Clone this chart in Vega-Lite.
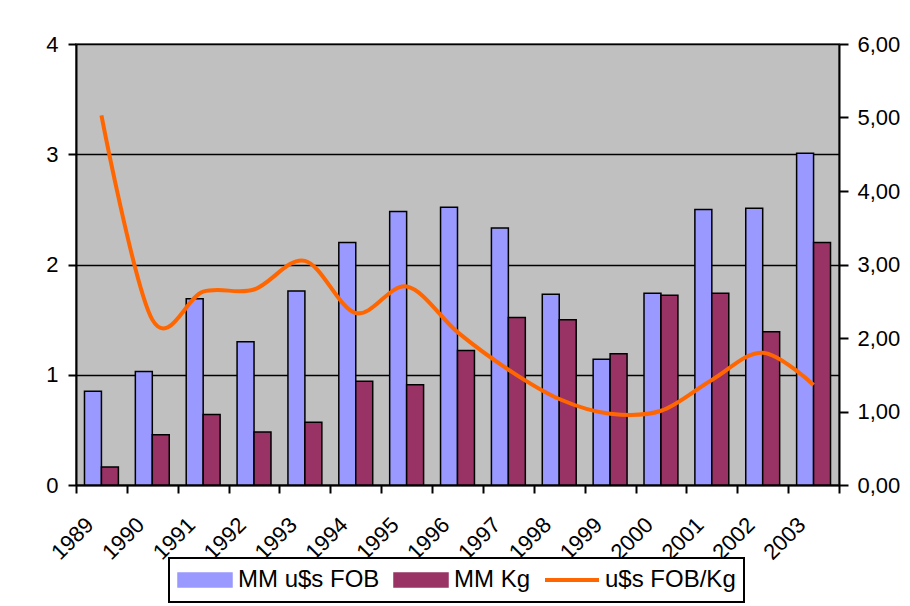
{
  "$schema": "https://vega.github.io/schema/vega-lite/v6.json",
  "width": 763,
  "height": 441,
  "autosize": {"type": "none"},
  "padding": {"left": 76, "top": 44, "right": 71, "bottom": 121},
  "background": "white",
  "config": {
    "font": "Liberation Sans",
    "view": {"fill": "#C0C0C0", "stroke": "#808080", "strokeWidth": 2},
    "axis": {"labelColor": "black", "labelFont": "Liberation Sans", "domainColor": "black", "tickColor": "black"}
  },
  "datasets": {
    "bars": [
      {"year": "1989", "series": "MM u$s FOB", "value": 0.85},
      {"year": "1990", "series": "MM u$s FOB", "value": 1.03},
      {"year": "1991", "series": "MM u$s FOB", "value": 1.69},
      {"year": "1992", "series": "MM u$s FOB", "value": 1.30},
      {"year": "1993", "series": "MM u$s FOB", "value": 1.76},
      {"year": "1994", "series": "MM u$s FOB", "value": 2.20},
      {"year": "1995", "series": "MM u$s FOB", "value": 2.48},
      {"year": "1996", "series": "MM u$s FOB", "value": 2.52},
      {"year": "1997", "series": "MM u$s FOB", "value": 2.33},
      {"year": "1998", "series": "MM u$s FOB", "value": 1.73},
      {"year": "1999", "series": "MM u$s FOB", "value": 1.14},
      {"year": "2000", "series": "MM u$s FOB", "value": 1.74},
      {"year": "2001", "series": "MM u$s FOB", "value": 2.50},
      {"year": "2002", "series": "MM u$s FOB", "value": 2.51},
      {"year": "2003", "series": "MM u$s FOB", "value": 3.01},
      {"year": "1989", "series": "MM Kg", "value": 0.163},
      {"year": "1990", "series": "MM Kg", "value": 0.456},
      {"year": "1991", "series": "MM Kg", "value": 0.64},
      {"year": "1992", "series": "MM Kg", "value": 0.48},
      {"year": "1993", "series": "MM Kg", "value": 0.57},
      {"year": "1994", "series": "MM Kg", "value": 0.94},
      {"year": "1995", "series": "MM Kg", "value": 0.91},
      {"year": "1996", "series": "MM Kg", "value": 1.22},
      {"year": "1997", "series": "MM Kg", "value": 1.52},
      {"year": "1998", "series": "MM Kg", "value": 1.50},
      {"year": "1999", "series": "MM Kg", "value": 1.19},
      {"year": "2000", "series": "MM Kg", "value": 1.72},
      {"year": "2001", "series": "MM Kg", "value": 1.74},
      {"year": "2002", "series": "MM Kg", "value": 1.39},
      {"year": "2003", "series": "MM Kg", "value": 2.20}
    ],
    "line": [
      {"year": "1989", "series": "u$s FOB/Kg", "value": 5.03},
      {"year": "1990", "series": "u$s FOB/Kg", "value": 2.25},
      {"year": "1991", "series": "u$s FOB/Kg", "value": 2.63},
      {"year": "1992", "series": "u$s FOB/Kg", "value": 2.66},
      {"year": "1993", "series": "u$s FOB/Kg", "value": 3.05},
      {"year": "1994", "series": "u$s FOB/Kg", "value": 2.34},
      {"year": "1995", "series": "u$s FOB/Kg", "value": 2.70},
      {"year": "1996", "series": "u$s FOB/Kg", "value": 2.08},
      {"year": "1997", "series": "u$s FOB/Kg", "value": 1.57},
      {"year": "1998", "series": "u$s FOB/Kg", "value": 1.17},
      {"year": "1999", "series": "u$s FOB/Kg", "value": 0.97},
      {"year": "2000", "series": "u$s FOB/Kg", "value": 1.01},
      {"year": "2001", "series": "u$s FOB/Kg", "value": 1.43},
      {"year": "2002", "series": "u$s FOB/Kg", "value": 1.80},
      {"year": "2003", "series": "u$s FOB/Kg", "value": 1.36}
    ]
  },
  "encoding": {
    "x": {
      "field": "year", "type": "nominal",
      "scale": {"paddingInner": 0, "paddingOuter": 0},
      "axis": {
        "title": null, "labelAngle": -45, "labelAlign": "right", "labelBaseline": "middle",
        "labelFontSize": 22, "labelPadding": 28, "labelOffset": -12,
        "tickBand": "extent", "tickSize": 8, "tickWidth": 2, "domainWidth": 2, "grid": false
      }
    },
    "color": {
      "field": "series", "type": "nominal",
      "scale": {"domain": ["MM u$s FOB", "MM Kg", "u$s FOB/Kg"], "range": ["#9999FF", "#993366", "#FF6600"]},
      "legend": {
        "title": null, "orient": "none", "legendX": 93, "legendY": 514, "direction": "horizontal",
        "labelFontSize": 24, "labelColor": "black", "labelOffset": 5, "columnPadding": 13,
        "padding": 8, "clipHeight": 28, "strokeColor": "black", "fillColor": "white",
        "symbolSize": 2916, "symbolOpacity": 1,
        "encode": {
          "legend": {"update": {"strokeWidth": {"value": 2}}},
          "symbols": {"update": {
            "shape": {"signal": "(datum.value === 'u$s FOB/Kg' ? 'stroke' : 'M-1,-0.26H1V0.26H-1Z')"},
            "fill": {"signal": "(datum.value === 'MM u$s FOB' ? '#9999FF' : datum.value === 'MM Kg' ? '#993366' : 'transparent')"},
            "stroke": {"signal": "(datum.value === 'u$s FOB/Kg' ? '#FF6600' : 'black')"},
            "strokeWidth": {"signal": "(datum.value === 'u$s FOB/Kg' ? 4 : 1.5)"}
          }}
        }
      }
    }
  },
  "layer": [
    {
      "data": {"name": "bars"},
      "mark": {"type": "bar", "stroke": "black", "strokeWidth": 1.5},
      "encoding": {
        "xOffset": {
          "field": "series", "type": "nominal",
          "scale": {"domain": ["MM u$s FOB", "MM Kg"], "paddingOuter": 0.5, "paddingInner": 0}
        },
        "y": {
          "field": "value", "type": "quantitative",
          "scale": {"domain": [0, 4], "nice": false},
          "axis": {
            "title": null, "values": [0, 1, 2, 3, 4], "labelFontSize": 22, "labelPadding": 10,
            "tickSize": 8, "tickWidth": 2, "domainWidth": 2,
            "grid": true, "gridColor": "black", "gridWidth": 1.5, "gridOpacity": 1
          }
        }
      }
    },
    {
      "data": {"name": "line"},
      "mark": {"type": "line", "strokeWidth": 4, "interpolate": "cardinal"},
      "encoding": {
        "y": {
          "field": "value", "type": "quantitative",
          "scale": {"domain": [0, 6], "nice": false},
          "axis": {
            "title": null, "orient": "right", "values": [0, 1, 2, 3, 4, 5, 6],
            "labelExpr": "replace(format(datum.value, '.2f'), '.', ',')",
            "labelFontSize": 22, "labelPadding": 9, "tickSize": 9, "tickWidth": 2, "domainWidth": 2, "grid": false
          }
        }
      }
    }
  ],
  "resolve": {"scale": {"y": "independent"}}
}
